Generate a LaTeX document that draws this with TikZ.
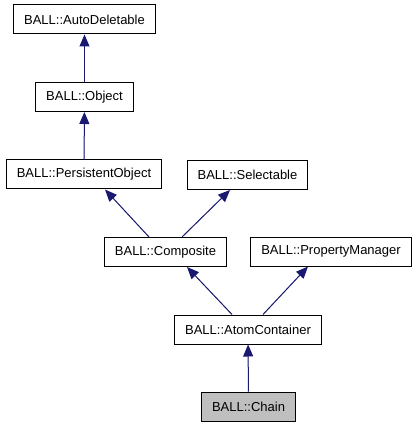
\documentclass[tikz,border=0pt]{standalone}
\usepackage{fontspec}
\setmainfont{Liberation Sans}
\usetikzlibrary{arrows.meta, positioning}

\definecolor{edgeblue}{RGB}{25,25,112}
\definecolor{curgray}{RGB}{191,191,191}

\begin{document}
\begin{tikzpicture}[
        x=1pt, y=-1pt,
        >={Triangle[length=12pt, width=10pt]},
        cls/.style={rectangle, draw=black, line width=1pt, fill=white, inner xsep=10.5pt, minimum height=29pt, font=\fontsize{13}{15}\selectfont},
        current/.style={cls, fill=curgray},
        inherit/.style={->, draw=edgeblue, fill=edgeblue, line width=1pt}
    ]
        \useasboundingbox (0,0) rectangle (416,427);

        \node[cls] (autodel) at (84.5,19.5) {BALL::AutoDeletable};
        \node[cls] (object) at (84.5,97) {BALL::Object};
        \node[cls] (persist) at (84,174.5) {BALL::PersistentObject};
        \node[cls] (select) at (247.5,175) {BALL::Selectable};
        \node[cls] (composite) at (165.5,252) {BALL::Composite};
        \node[cls] (propman) at (331,251.5) {BALL::PropertyManager};
        \node[cls] (atomcont) at (248,329.5) {BALL::AtomContainer};
        \node[current] (chain) at (248.5,406.5) {BALL::Chain};

        \draw[inherit] (object) -- (autodel);
        \draw[inherit] (persist) -- (object);
        \draw[inherit] ([xshift=-16.5pt]composite.north) -- ([xshift=21pt]persist.south);
        \draw[inherit] ([xshift=16.5pt]composite.north) -- ([xshift=-17.5pt]select.south);
        \draw[inherit] ([xshift=-16pt]atomcont.north) -- ([xshift=21.5pt]composite.south);
        \draw[inherit] ([xshift=15pt]atomcont.north) -- ([xshift=-23pt]propman.south);
        \draw[inherit] (chain) -- (atomcont);
    \end{tikzpicture}
\end{document}
